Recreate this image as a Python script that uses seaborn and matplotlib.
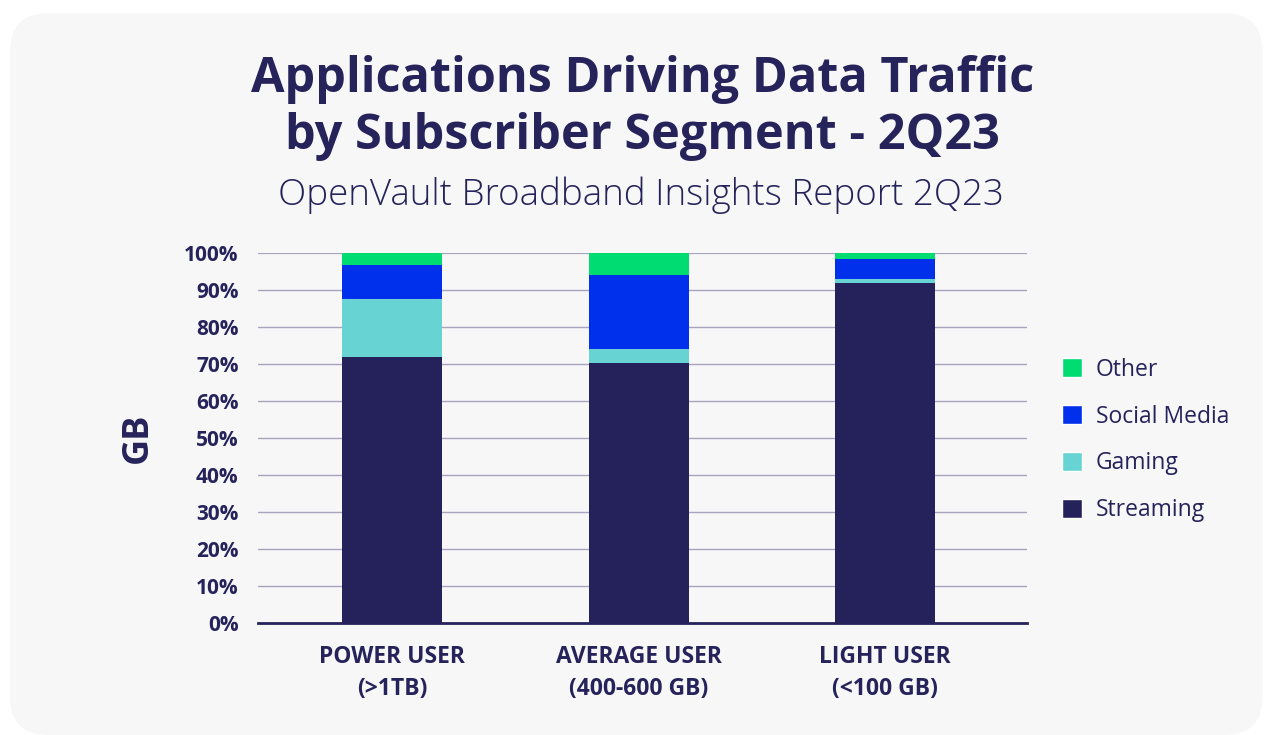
import matplotlib
matplotlib.use("Agg")
import numpy as np
import pandas as pd
import matplotlib.pyplot as plt
import seaborn as sns
from matplotlib.patches import FancyBboxPatch, Patch

# data (share of traffic, %)
segments = ["POWER USER\n(>1TB)", "AVERAGE USER\n(400-600 GB)", "LIGHT USER\n(<100 GB)"]
streaming = [72.0, 70.3, 91.9]
gaming = [15.6, 3.8, 1.1]
social_media = [9.2, 20.0, 5.4]
other = [3.2, 5.9, 1.6]

apps = ["Streaming", "Gaming", "Social Media", "Other"]
colors = {"Streaming": "#25225b", "Gaming": "#67d3d3",
          "Social Media": "#0030eb", "Other": "#00db72"}
navy = "#25235a"

df = pd.DataFrame({"segment": segments, "Streaming": streaming, "Gaming": gaming,
                   "Social Media": social_media, "Other": other})
cum = df[apps].cumsum(axis=1)
cum["segment"] = df["segment"]

sns.set_theme(style="white")
plt.rcParams["font.family"] = ["Open Sans", "DejaVu Sans"]

fig = plt.figure(figsize=(12.65, 7.35), dpi=100)
fig.patch.set_facecolor("white")
fig.patches.append(FancyBboxPatch((0.008, 0.0), 0.99, 0.982, boxstyle="round,pad=0,rounding_size=0.03",
                                  transform=fig.transFigure, facecolor="#f7f7f7",
                                  edgecolor="none", zorder=-5, mutation_aspect=1265 / 735))

ax = fig.add_axes([258 / 1265, 1 - 623 / 735, (1027 - 258) / 1265, (623 - 253) / 735])
ax.set_facecolor("none")
ax.set_zorder(2)

# stacked bars: draw cumulative totals from top layer down
for app in reversed(apps):
    sns.barplot(data=cum, x="segment", y=app, color=colors[app], width=0.406,
                saturation=1, ax=ax, zorder=3, linewidth=0, edgecolor="none")

ax.set_xlim(-0.544, 2.576)
ax.set_ylim(0, 100)
ax.set_yticks(np.arange(0, 101, 10))
ax.set_yticklabels([f"{v}%" for v in range(0, 101, 10)], fontsize=15, fontweight="bold", color=navy)
ax.set_xticks(range(3))
ax.set_xticklabels(segments, fontsize=16.5, fontweight="bold", color=navy, linespacing=1.45)
ax.tick_params(axis="y", length=0, pad=14)
ax.tick_params(axis="x", length=0, pad=16)
for v in range(10, 101, 10):
    ax.axhline(v, color="#a8a4c0", lw=1.6 if v == 100 else 1.0, zorder=1)
for s in ["top", "right", "left"]:
    ax.spines[s].set_visible(False)
ax.spines["bottom"].set_color(navy)
ax.spines["bottom"].set_linewidth(2)
ax.spines["bottom"].set_zorder(4)
ax.set_xlabel("")
ax.set_ylabel("GB", fontsize=26, fontweight="bold", color=navy, labelpad=20)

fig.text(0.508, 1 - 108 / 735, "Applications Driving Data Traffic\nby Subscriber Segment - 2Q23",
         ha="center", va="center", fontsize=35, fontweight="bold", color=navy, linespacing=1.2)
fig.text(0.507, 1 - 195 / 735, "OpenVault Broadband Insights Report 2Q23", ha="center", va="center",
         fontsize=26.5, fontweight="light", color=navy)

handles = [Patch(facecolor=colors[a], label=a) for a in reversed(apps)]
leg = fig.legend(handles=handles, loc="center left", bbox_to_anchor=(1041 / 1265, 1 - 440 / 735),
                 frameon=False, fontsize=16.5, handlelength=0.9, handleheight=0.9,
                 labelspacing=1.0, handletextpad=0.6)
for t in leg.get_texts():
    t.set_color(navy)

plt.savefig("out.png", dpi=100, facecolor="white")
